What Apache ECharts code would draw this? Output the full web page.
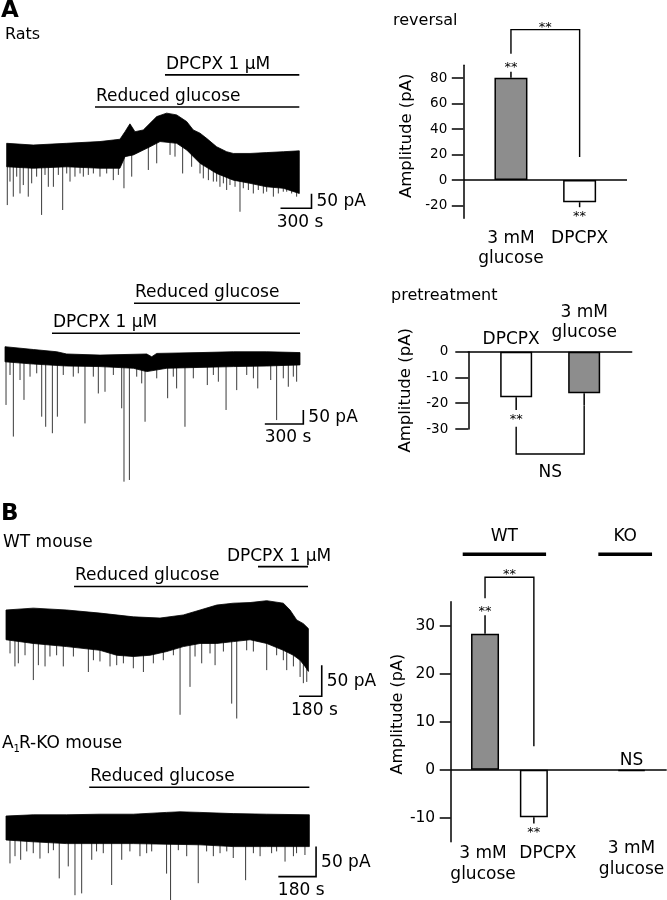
<!DOCTYPE html>
<html>
<head>
<meta charset="utf-8">
<script src="https://cdn.jsdelivr.net/npm/echarts@6.0.0/dist/echarts.min.js"></script>
<style>
html,body{margin:0;padding:0;background:#ffffff;}
#chart{width:667px;height:900px;}
</style>
</head>
<body>
<div id="chart"></div>
<script>
// ================= DATA =================
// Traces: time in s, current in pA relative to the initial upper edge of the trace.

// A, rat: reduced glucose, then DPCPX 1 uM
const a1UpperTime = [0,257,580,903,1096,1145,1193,1242,1322,1387,1452,1548,1645,1742,1806,1871,1935,2032,2129,2193,2355,2516,2677,2832];
const a1UpperAmp  = [0,-6,0,6,14,40,67,40,46,69,92,104,98,75,46,35,17,-12,-29,-35,-35,-32,-29,-26];
const a1LowerTime = [0,257,580,903,1096,1145,1226,1387,1484,1645,1742,1871,2032,2193,2355,2516,2677,2832];
const a1LowerAmp  = [-81,-86,-81,-86,-86,-46,-40,-12,6,0,-23,-69,-104,-127,-138,-150,-155,-173];
const a1EventTime = [6,64,129,209,338,403,452,542,613,742,903,1032,1135,1210,1371,1452,1581,1629,1703,1790,1871,2000,2064,2129,2258,2387,2484,2581,2710,2806,
                     32,97,161,242,290,371,500,581,661,710,790,839,968,1081,1903,1952,2032,2097,2161,2210,2290,2339,2435,2516,2629,2677,2758];
const a1EventAmp  = [-213,-184,-173,-184,-247,-150,-150,-230,-132,-115,-115,-127,-155,-115,-92,-69,-40,-46,-104,-81,-104,-132,-150,-161,-236,-173,-173,-184,-167,-184,
                     -132,-115,-144,-138,-115,-109,-109,-104,-115,-104,-109,-104,-104,-109,-121,-127,-132,-138,-144,-150,-155,-161,-161,-167,-173,-167,-173];
const a1DrugNames = ['DPCPX 1 μM','Reduced glucose'];
const a1DrugStart = [1532,855];
const a1DrugEnd   = [2832,2832];

// A, rat: DPCPX pretreatment, then reduced glucose
const a2UpperTime = [0,221,403,480,740,1104,1143,1182,1519,1779,2039,2298];
const a2UpperAmp  = [0,-10,-18,-26,-30,-26,-36,-24,-21,-18,-18,-21];
const a2LowerTime = [0,221,480,740,1000,1104,1260,1519,1779,2039,2298];
const a2LowerAmp  = [-54,-62,-69,-71,-77,-89,-77,-74,-71,-69,-65];
const a2EventTime = [8,65,117,148,286,317,369,408,623,727,779,909,927,969,1091,1267,1337,1402,1576,1722,1805,1969,2070,2116,2207,2272,
                     39,195,247,454,532,571,688,844,1026,1065,1182,1311,1467,1623,1662,1883,1935,2168,2246];
const a2EventAmp  = [-208,-321,-119,-190,-250,-286,-309,-250,-274,-167,-161,-220,-482,-476,-268,-184,-149,-286,-137,-226,-155,-149,-119,-262,-143,-125,
                     -101,-107,-95,-101,-107,-95,-107,-101,-107,-131,-113,-107,-113,-101,-125,-101,-113,-113,-107];
const a2DrugNames = ['Reduced glucose','DPCPX 1 μM'];
const a2DrugStart = [1005,366];
const a2DrugEnd   = [2298,2298];

// B, WT mouse
const b1UpperTime = [0,217,482,746,1011,1223,1408,1541,1673,1805,1938,2070,2202,2255,2308,2361,2401];
const b1UpperAmp  = [0,3,0,-5,-11,-13,-8,0,8,11,12,15,11,0,-16,-22,-30];
const b1LowerTime = [0,217,482,746,879,1011,1144,1276,1408,1541,1673,1805,1938,2070,2202,2282,2335,2374,2401];
const b1LowerAmp  = [-48,-54,-59,-65,-73,-75,-73,-67,-59,-54,-54,-51,-48,-54,-65,-73,-81,-91,-99];
const b1EventTime = [71,98,217,257,310,455,654,826,932,1011,1091,1382,1461,1554,1660,1792,1832,2070,2229,2361,2388,
                     32,151,349,402,535,694,746,879,1170,1249,1329,1501,1620,1726,1911,1964,2149,2202,2282,2335];
const b1EventAmp  = [-91,-86,-113,-89,-91,-91,-100,-91,-86,-94,-100,-169,-124,-86,-89,-151,-175,-97,-97,-118,-116,
                     -70,-73,-75,-73,-75,-81,-83,-89,-86,-81,-73,-75,-70,-67,-65,-67,-73,-81,-91,-108];
const b1DrugNames = ['DPCPX 1 μM','Reduced glucose'];
const b1DrugStart = [2001,540];
const b1DrugEnd   = [2398,2398];

// B, A1R-KO mouse
const b2UpperTime = [0,130,289,448,607,766,830,925,1084,1243,1447];
const b2UpperAmp  = [0,2,2,3,3,6,7,6,4,3,2];
const b2LowerTime = [0,130,289,448,607,766,925,1084,1243,1447];
const b2LowerAmp  = [-40,-43,-46,-46,-46,-47,-48,-51,-51,-51];
const b2EventTime = [19,43,70,130,162,254,297,329,361,409,504,552,639,766,785,862,917,989,1084,1143,1212,1267,1331,1371,1426,
                     99,202,226,432,464,591,671,695,822,957,1021,1053,1180,1291,1386];
const b2EventAmp  = [-79,-67,-73,-62,-71,-104,-84,-132,-129,-73,-115,-73,-67,-96,-140,-67,-112,-67,-70,-107,-67,-62,-76,-67,-65,
                     -59,-62,-57,-59,-62,-59,-62,-59,-57,-59,-62,-59,-62,-59,-62];
const b2DrugNames = ['Reduced glucose'];
const b2DrugStart = [397];
const b2DrugEnd   = [1447];

// Scale bars
const scaleTimeA = 300, scaleTimeB = 180, scaleAmp = 50;

// Bar charts (amplitude, pA; mean and SEM)
const reversalCats = ['3 mM\nglucose','DPCPX'];
const reversalMean = [80.3,-17.4];
const reversalSem  = [4.7,3.9];
const reversalSig  = ['**','**'];
const reversalPair = '**';
const reversalTicks = [-20,0,20,40,60,80];

const pretreatCats = ['DPCPX','3 mM\nglucose'];
const pretreatMean = [-17.7,-16.1];
const pretreatSem  = [4.9,4.9];
const pretreatSig  = ['**',''];
const pretreatPair = 'NS';
const pretreatTicks = [-30,-20,-10,0];

const mouseGroups = ['WT','KO'];
const mouseCats = ['3 mM\nglucose','DPCPX','3 mM\nglucose'];
const mouseMean = [28.3,-9.9,-0.3];
const mouseSem  = [3.9,1.3,0];
const mouseSig  = ['**','**','NS'];
const mousePair = '**';
const mouseTicks = [-10,0,10,20,30];

// ================= LAYOUT / STYLE =================
const FONT = '"DejaVu Sans", sans-serif';
const f = (s, w) => (w ? w + ' ' : '') + s + 'px ' + FONT;
const BLACK = '#000';
const GRAY = '#8d8d8d';
const WHITE = '#ffffff';
const colorFor = c => c.indexOf('glucose') >= 0 ? GRAY : WHITE;

const traceLayouts = [
  {x0:6.67, y0:143.3, sx:31/300, sy:0.29, xr:[0,3000], yr:[-300,300]},
  {x0:5,    y0:346.7, sx:1/7.79, sy:0.28, xr:[0,2400], yr:[-500,200]},
  {x0:6,    y0:610,   sx:1/7.94, sy:0.62, xr:[0,2600], yr:[-200,100]},
  {x0:6,    y0:816,   sx:1/4.77, sy:0.60, xr:[0,1500], yr:[-150,100]}
];
const barLayouts = [
  {left:463.3, top:65.3,  width:163.7, height:153,  xr:[0.306,2.69], yr:[-30,90]},
  {left:468.3, top:351.7, width:163.4, height:77.3, xr:[0.296,2.699], yr:[-30,0]},
  {left:450.7, top:601.7, width:216,   height:240,  xr:[0.297,4.72], yr:[-15,35]}
];

const grids = [], xAxes = [], yAxes = [], series = [];
traceLayouts.forEach((L, i) => {
  grids.push({left:L.x0 + L.xr[0]*L.sx, top:L.y0 - L.yr[1]*L.sy,
              width:(L.xr[1]-L.xr[0])*L.sx, height:(L.yr[1]-L.yr[0])*L.sy, outerBoundsMode:'none'});
  xAxes.push({gridIndex:i, type:'value', min:L.xr[0], max:L.xr[1], show:false});
  yAxes.push({gridIndex:i, type:'value', min:L.yr[0], max:L.yr[1], show:false});
});
barLayouts.forEach(L => grids.push({left:L.left, top:L.top, width:L.width, height:L.height, outerBoundsMode:'none'}));

function interp(ts, vs, t) {
  if (t <= ts[0]) return vs[0];
  for (let i = 1; i < ts.length; i++) {
    if (t <= ts[i]) { const k = (t - ts[i-1]) / (ts[i] - ts[i-1]); return vs[i-1] + k*(vs[i]-vs[i-1]); }
  }
  return vs[vs.length-1];
}

function traceSeries(g, upT, upV, loT, loV, evT, evV) {
  return [
    {type:'custom', xAxisIndex:g, yAxisIndex:g, clip:false, silent:true, z:2,
     data: evT.map((t,i) => [t, evV[i]]),
     renderItem(p, api) {
       const t = api.value(0);
       const a = api.coord([t, interp(loT, loV, t)]);
       const b = api.coord([t, api.value(1)]);
       return {type:'line', shape:{x1:a[0], y1:a[1]-2, x2:b[0], y2:b[1]}, style:{stroke:'#3a3a3a', lineWidth:1}};
     }},
    {type:'custom', xAxisIndex:g, yAxisIndex:g, clip:false, silent:true, z:3,
     data: [[upT[0], upV[0]]],
     renderItem(p, api) {
       const pts = upT.map((t,i) => api.coord([t, upV[i]]));
       for (let i = loT.length-1; i >= 0; i--) pts.push(api.coord([loT[i], loV[i]]));
       return {type:'polygon', shape:{points:pts}, style:{fill:BLACK, stroke:BLACK, lineWidth:0.8}};
     }}
  ];
}

function drugSeries(g, names, starts, ends, levels, aligns) {
  return {type:'custom', xAxisIndex:g, yAxisIndex:g, clip:false, silent:true, z:4,
    data: names.map((n,i) => [starts[i], levels[i], ends[i]]),
    renderItem(p, api) {
      const i = p.dataIndex;
      const a = api.coord([api.value(0), api.value(1)]);
      const b = api.coord([api.value(2), api.value(1)]);
      const al = aligns[i];
      const tx = al === 'center' ? (a[0]+b[0])/2 - 4 : a[0] + 1;
      return {type:'group', children:[
        {type:'line', shape:{x1:a[0], y1:a[1], x2:b[0], y2:b[1]}, style:{stroke:BLACK, lineWidth:1.6}},
        {type:'text', x:tx, y:a[1]-2, style:{text:names[i], font:f(17), fill:BLACK, align:al, verticalAlign:'bottom'}}
      ]};
    }};
}

function scaleSeries(g, corner, tLen, aLen) {
  return {type:'custom', xAxisIndex:g, yAxisIndex:g, clip:false, silent:true, z:4,
    data: [corner],
    renderItem(p, api) {
      const c = api.coord([api.value(0), api.value(1)]);
      const l = api.coord([api.value(0) - tLen, api.value(1)]);
      const t = api.coord([api.value(0), api.value(1) + aLen]);
      return {type:'group', children:[
        {type:'polyline', shape:{points:[l, c, t]}, style:{stroke:BLACK, lineWidth:1.6, fill:'none'}},
        {type:'text', x:c[0]+5, y:(c[1]+t[1])/2+1, style:{text:aLen + ' pA', font:f(17), fill:BLACK, align:'left', verticalAlign:'middle'}},
        {type:'text', x:(l[0]+c[0])/2+4, y:c[1]+14, style:{text:tLen + ' s', font:f(17), fill:BLACK, align:'center', verticalAlign:'middle'}}
      ]};
    }};
}

series.push(...traceSeries(0, a1UpperTime, a1UpperAmp, a1LowerTime, a1LowerAmp, a1EventTime, a1EventAmp));
series.push(drugSeries(0, a1DrugNames, a1DrugStart, a1DrugEnd, [236,125], ['left','left']));
series.push(scaleSeries(0, [2950,-224], scaleTimeA, scaleAmp));

series.push(...traceSeries(1, a2UpperTime, a2UpperAmp, a2LowerTime, a2LowerAmp, a2EventTime, a2EventAmp));
series.push(drugSeries(1, a2DrugNames, a2DrugStart, a2DrugEnd, [155,48], ['left','left']));
series.push(scaleSeries(1, [2324,-276], scaleTimeA, scaleAmp));

series.push(...traceSeries(2, b1UpperTime, b1UpperAmp, b1LowerTime, b1LowerAmp, b1EventTime, b1EventAmp));
series.push(drugSeries(2, b1DrugNames, b1DrugStart, b1DrugEnd, [70,38], ['center','left']));
series.push(scaleSeries(2, [2507,-139], scaleTimeB, scaleAmp));

series.push(...traceSeries(3, b2UpperTime, b2UpperAmp, b2LowerTime, b2LowerAmp, b2EventTime, b2EventAmp));
series.push(drugSeries(3, b2DrugNames, b2DrugStart, b2DrugEnd, [48], ['left']));
series.push(scaleSeries(3, [1479,-101], scaleTimeB, scaleAmp));

// ---- bar charts ----
function sigText(x, y, text) {
  const star = text === '**';
  return {type:'text', x, y, style:{text, font:f(star ? 13 : 17), fill:BLACK, align:'center', verticalAlign:'middle'}};
}

function barSeries(g, xAxisIdx, xs, cats, means, sems, sigs, barW, bracket, pairLabel, pairOffset, zeroLine) {
  const errEnd = means.map((m,i) => m + (m >= 0 ? 1 : -1) * sems[i]);
  const bar = {type:'bar', xAxisIndex:xAxisIdx, yAxisIndex:g, barWidth:barW, silent:true, z:2,
    data: xs.map((x,i) => ({value:[x, means[i]], itemStyle:{color:colorFor(cats[i]), borderColor:BLACK, borderWidth:1.5}}))};
  if (zeroLine) bar.markLine = {silent:true, symbol:['none','none'], label:{show:false},
    lineStyle:{color:BLACK, width:1.5, type:'solid'}, emphasis:{disabled:true}, data:[{yAxis:0}]};
  return [bar,
    {type:'custom', xAxisIndex:xAxisIdx, yAxisIndex:g, clip:false, silent:true, z:3,
     data: xs.map((x,i) => [x, means[i], errEnd[i]]),
     renderItem(p, api) {
       const i = p.dataIndex;
       const a = api.coord([api.value(0), api.value(1)]);
       const b = api.coord([api.value(0), api.value(2)]);
       const ch = [];
       if (Math.abs(b[1]-a[1]) > 0.5) ch.push({type:'line', shape:{x1:a[0], y1:a[1], x2:b[0], y2:b[1]}, style:{stroke:BLACK, lineWidth:1.5}});
       const s = sigs[i];
       if (s) {
         const above = means[i] > -1;
         const ty = above ? b[1] - (s === '**' ? 4 : 11) : b[1] + 9.5;
         ch.push(sigText(b[0], ty, s));
       }
       return {type:'group', children:ch};
     }},
    {type:'custom', xAxisIndex:xAxisIdx, yAxisIndex:g, clip:false, silent:true, z:3,
     data: [bracket[0]],
     renderItem(p, api) {
       const pts = bracket.map(q => api.coord(q));
       const mx = (pts[1][0] + pts[2][0]) / 2;
       return {type:'group', children:[
         {type:'polyline', shape:{points:pts}, style:{stroke:BLACK, lineWidth:1.4, fill:'none'}},
         sigText(mx, pts[1][1] + pairOffset, pairLabel)
       ]};
     }}
  ];
}

const axisBlack = {color:BLACK, width:1.5};
// category labels on a value axis; labels that would touch each other go on separate (overlaid) axes
function barXAxis(g, L, xs, cats, lab) {
  const map = {}; xs.forEach((x,i) => map[x] = cats[i]);
  return {gridIndex:g, type:'value', min:L.xr[0], max:L.xr[1], position:'bottom',
    axisLine:{show:false, onZero:false}, axisTick:{show:false}, splitLine:{show:false},
    axisLabel:{customValues:xs, formatter:v => map[v], hideOverlap:false,
      color:BLACK, fontFamily:FONT, fontSize:17, lineHeight:lab.lh, margin:lab.margin, padding:lab.pad || 0}};
}
function barYAxis(g, L, ticks, o) {
  return {gridIndex:g, type:'value', min:L.yr[0], max:L.yr[1],
    axisLine:{show:true, onZero:false, lineStyle:axisBlack},
    axisTick:{show:true, length:o.tick, customValues:ticks, lineStyle:axisBlack},
    axisLabel:{customValues:ticks, color:BLACK, fontFamily:FONT, fontSize:o.fs, margin:o.margin, hideOverlap:false},
    splitLine:{show:false},
    name:'Amplitude (pA)', nameLocation:'middle', nameGap:o.gap,
    nameTextStyle:{color:BLACK, fontFamily:FONT, fontSize:o.nfs, padding:[0,0,0,o.shift]}};
}

// reversal (grid 4)
const revX = [1,2];
xAxes.push(barXAxis(4, barLayouts[0], revX, reversalCats, {lh:20, margin:10}));
yAxes.push(barYAxis(4, barLayouts[0], reversalTicks, {tick:11.5, fs:13.5, margin:16, gap:48.5, nfs:16.5, shift:12}));
series.push(...barSeries(4, 4, revX, reversalCats, reversalMean, reversalSem, reversalSig, 33,
  [[1,99],[1,118],[2,118],[2,18]], reversalPair, -1.5, true));

// pretreatment (grid 5)
const preX = [1,2];
const preMap = {1:'{s|DPCPX}', 2:'{n|3 mM}\n{n|glucose}'};
xAxes.push({gridIndex:5, type:'value', min:barLayouts[1].xr[0], max:barLayouts[1].xr[1], position:'top',
  axisLine:{show:true, onZero:false, lineStyle:axisBlack}, axisTick:{show:false}, splitLine:{show:false},
  axisLabel:{customValues:preX, formatter:v => preMap[v], hideOverlap:false, color:BLACK, fontFamily:FONT, fontSize:17, margin:9,
    rich:{s:{fontFamily:FONT, fontSize:17, lineHeight:6, color:BLACK, padding:[0,10,0,0]},
          n:{fontFamily:FONT, fontSize:17, lineHeight:20, color:BLACK}}}});
yAxes.push(barYAxis(5, barLayouts[1], pretreatTicks, {tick:13, fs:13.5, margin:20, gap:54, nfs:16.5, shift:0}));
series.push(...barSeries(5, 5, preX, pretreatCats, pretreatMean, pretreatSem, pretreatSig, 32,
  [[1,-29.1],[1,-39.7],[2,-39.7],[2,-21.1]], pretreatPair, 18.5, false));

// WT / KO mice (grid 6): three overlaid label axes
const mouseX = [1,2,4];
xAxes.push(barXAxis(6, barLayouts[2], [mouseX[0]], [mouseCats[0]], {lh:21, margin:1, pad:[0,4,0,0]}));   // xAxis 6
xAxes.push(barXAxis(6, barLayouts[2], [mouseX[1]], [mouseCats[1]], {lh:21, margin:1, pad:[0,0,0,28]}));  // xAxis 7
xAxes.push(barXAxis(6, barLayouts[2], [mouseX[2]], [mouseCats[2]], {lh:21, margin:-4}));                 // xAxis 8
yAxes.push(barYAxis(6, barLayouts[2], mouseTicks, {tick:11, fs:15.5, margin:15.5, gap:44, nfs:16, shift:15}));
series.push(...barSeries(6, 6, mouseX, mouseCats, mouseMean, mouseSem, mouseSig, 28,
  [[1,35.7],[1,40.1],[2,40.1],[2,4.9]], mousePair, -2.5, true));
const groupSpans = [[0.543,2.25],[3.32,4.42]];
series.push({type:'custom', xAxisIndex:6, yAxisIndex:6, clip:false, silent:true, z:3,
  data: mouseGroups.map((g,i) => [groupSpans[i][0], 44.9, groupSpans[i][1]]),
  renderItem(p, api) {
    const a = api.coord([api.value(0), api.value(1)]);
    const b = api.coord([api.value(2), api.value(1)]);
    return {type:'group', children:[
      {type:'line', shape:{x1:a[0], y1:a[1], x2:b[0], y2:b[1]}, style:{stroke:BLACK, lineWidth:3.5}},
      {type:'text', x:(a[0]+b[0])/2, y:a[1]-18, style:{text:mouseGroups[p.dataIndex], font:f(17), fill:BLACK, align:'center', verticalAlign:'middle'}}
    ]};
  }});

// panel titles
const T = (text, x, y, font) => ({type:'text', x, y, silent:true, style:{text, font, fill:BLACK, align:'left', verticalAlign:'middle'}});
const graphic = [
  T('A', 1, 11, f(23,'bold')),
  T('Rats', 5, 35, f(16)),
  T('reversal', 393, 20.5, f(16)),
  T('pretreatment', 391, 295.5, f(16)),
  T('B', 1, 514, f(23,'bold')),
  T('WT mouse', 3, 542.5, f(17)),
  T('A', 2, 744, f(17)),
  T('1', 13.5, 749, f(10)),
  T('R-KO mouse', 19, 744, f(17))
];

const chart = echarts.init(document.getElementById('chart'), null, {renderer:'canvas'});
chart.setOption({
  animation:false,
  backgroundColor:'#ffffff',
  textStyle:{fontFamily:FONT, color:BLACK},
  grid:grids, xAxis:xAxes, yAxis:yAxes, series, graphic
});
</script>
</body>
</html>
